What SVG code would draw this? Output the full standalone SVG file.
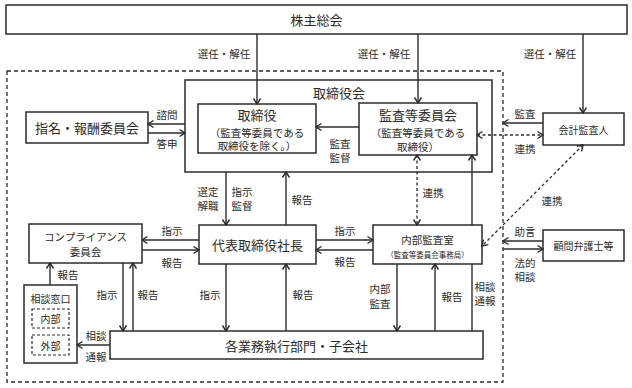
<svg xmlns="http://www.w3.org/2000/svg" width="632" height="388" viewBox="0 0 632 388">
<style>
text{font-family:"Noto Sans CJK JP","Noto Sans",sans-serif;fill:#2b2b2b;text-anchor:middle;dominant-baseline:central}
.box{fill:#fff;stroke:#2b2b2b;stroke-width:1.5}
.frame{fill:none;stroke:#2b2b2b;stroke-width:1.5}
.dbox{fill:none;stroke:#2b2b2b;stroke-width:1.2;stroke-dasharray:3,2}
.outer{fill:none;stroke:#2b2b2b;stroke-width:1.3;stroke-dasharray:4,3}
.t13{font-size:13px}
.t11{font-size:10.5px}
.t10{font-size:10px}
.t7{font-size:7.5px}
.lb{font-size:10.5px}
.ln{fill:none;stroke:#2b2b2b;stroke-width:1.4;marker-end:url(#ah)}
.pl{fill:none;stroke:#2b2b2b;stroke-width:1.4}
.dl{fill:none;stroke:#2b2b2b;stroke-width:1.3;stroke-dasharray:3,2.5;marker-end:url(#ah);marker-start:url(#ah)}
</style>
<defs>
<marker id="ah" viewBox="0 0 10 10" refX="9" refY="5" markerWidth="10" markerHeight="10" markerUnits="userSpaceOnUse" orient="auto-start-reverse">
<path d="M3.5,1.5 L9,5 L3.5,8.5" fill="none" stroke="#2b2b2b" stroke-width="1.4"/>
</marker>
</defs>
<rect class="outer" x="7" y="71" width="496" height="311"/>
<g id="n-kabunushi"><rect class="box" x="6" y="5" width="621" height="29"/><text class="t13" x="316.5" y="19.5">株主総会</text></g>
<g id="n-torishimariyakukai"><rect class="frame" x="185" y="80" width="307" height="92"/><text class="t13" x="339" y="92">取締役会</text></g>
<g id="n-torishimariyaku"><rect class="box" x="198" y="104" width="118" height="49"/><text class="t13" x="257" y="114.5">取締役</text><text class="t11" x="257" y="132">（監査等委員である</text><text class="t11" x="257" y="145.5">取締役を除く。）</text></g>
<g id="n-kansa"><rect class="box" x="359" y="103" width="118" height="52"/><text class="t13" x="418" y="114.5">監査等委員会</text><text class="t11" x="418" y="132">（監査等委員である</text><text class="t11" x="418" y="146">取締役）</text></g>
<g id="n-shimei"><rect class="box" x="26" y="112" width="122" height="31"/><text class="t13" x="87" y="127.5">指名・報酬委員会</text></g>
<g id="n-kaikei"><rect class="box" x="543" y="113" width="81" height="32"/><text class="t10" x="583.5" y="129">会計監査人</text></g>
<g id="n-comp"><rect class="box" x="29" y="224" width="113" height="39"/><text class="t11" x="85.5" y="236">コンプライアンス</text><text class="t11" x="85.5" y="251">委員会</text></g>
<g id="n-daihyo"><rect class="box" x="199" y="225" width="117" height="39"/><text class="t13" x="257.5" y="244.5">代表取締役社長</text></g>
<g id="n-naibu"><rect class="box" x="373" y="225" width="109" height="39"/><text class="t11" x="427.5" y="239">内部監査室</text><text class="t7" x="427.5" y="254">（監査等委員会事務局）</text></g>
<g id="n-komon"><rect class="box" x="543" y="230" width="81" height="31"/><text class="t10" x="583.5" y="245.5">顧問弁護士等</text></g>
<g id="n-madoguchi"><rect class="box" x="24" y="285" width="53" height="78"/><text class="t10" x="50.5" y="298">相談窓口</text>
<rect class="dbox" x="32" y="309" width="37" height="19"/><text class="t10" x="50.5" y="318.5">内部</text>
<rect class="dbox" x="32" y="335" width="37" height="20"/><text class="t10" x="50.5" y="345">外部</text></g>
<g id="n-gyomu"><rect class="box" x="110" y="331" width="373" height="28"/><text class="t13" x="296.5" y="345">各業務執行部門・子会社</text></g>
<g id="connectors">
<path class="ln" d="M257,34 V104"/>
<path class="ln" d="M418,34 V103"/>
<path class="ln" d="M583,34 V113"/>
<path class="ln" d="M185,124 H148"/>
<path class="ln" d="M148,133 H185"/>
<path class="ln" d="M359,127 H316"/>
<path class="ln" d="M543,123 H503"/>
<path class="dl" d="M477,135 H543"/>
<path class="ln" d="M226,172 V225"/>
<path class="ln" d="M286,225 V172"/>
<path class="ln" d="M199,240 H142"/>
<path class="ln" d="M142,250 H199"/>
<path class="ln" d="M316,240 H373"/>
<path class="ln" d="M373,250 H316"/>
<path class="dl" d="M417,155 V225"/>
<path class="pl" d="M472,331 V264"/>
<path class="ln" d="M472,225 V155"/>
<path class="ln" d="M397,264 V331"/>
<path class="ln" d="M435,331 V264"/>
<path class="dl" d="M583,145 L482,246"/>
<path class="ln" d="M543,241 H503"/>
<path class="ln" d="M503,249 H543"/>
<path class="ln" d="M50,285 V263"/>
<path class="ln" d="M123,263 V331"/>
<path class="ln" d="M133,331 V263"/>
<path class="ln" d="M226,264 V331"/>
<path class="ln" d="M286,331 V264"/>
<path class="ln" d="M110,345 H77"/>
</g>
<g id="labels">
<text class="lb" x="224" y="53">選任・解任</text>
<text class="lb" x="384" y="53">選任・解任</text>
<text class="lb" x="550" y="53">選任・解任</text>
<text class="lb" x="167" y="114">諮問</text>
<text class="lb" x="167" y="143">答申</text>
<text class="lb" x="340" y="143">監査</text>
<text class="lb" x="340" y="157">監督</text>
<text class="lb" x="525" y="113">監査</text>
<text class="lb" x="525" y="148">連携</text>
<text class="lb" x="208" y="191">選定</text>
<text class="lb" x="208" y="205">解職</text>
<text class="lb" x="242" y="191">指示</text>
<text class="lb" x="242" y="205">監督</text>
<text class="lb" x="302" y="199">報告</text>
<text class="lb" x="172" y="230">指示</text>
<text class="lb" x="172" y="262">報告</text>
<text class="lb" x="345" y="230">指示</text>
<text class="lb" x="345" y="261">報告</text>
<text class="lb" x="433" y="192">連携</text>
<text class="lb" x="552" y="200">連携</text>
<text class="lb" x="525" y="231">助言</text>
<text class="lb" x="525" y="262">法的</text>
<text class="lb" x="525" y="276">相談</text>
<text class="lb" x="68" y="274">報告</text>
<text class="lb" x="107" y="294">指示</text>
<text class="lb" x="148" y="294">報告</text>
<text class="lb" x="210" y="294">指示</text>
<text class="lb" x="303" y="294">報告</text>
<text class="lb" x="380" y="288">内部</text>
<text class="lb" x="380" y="303">監査</text>
<text class="lb" x="452" y="296">報告</text>
<text class="lb" x="485" y="286">相談</text>
<text class="lb" x="485" y="300">通報</text>
<text class="lb" x="96" y="335">相談</text>
<text class="lb" x="96" y="356">通報</text>
</g>
</svg>
